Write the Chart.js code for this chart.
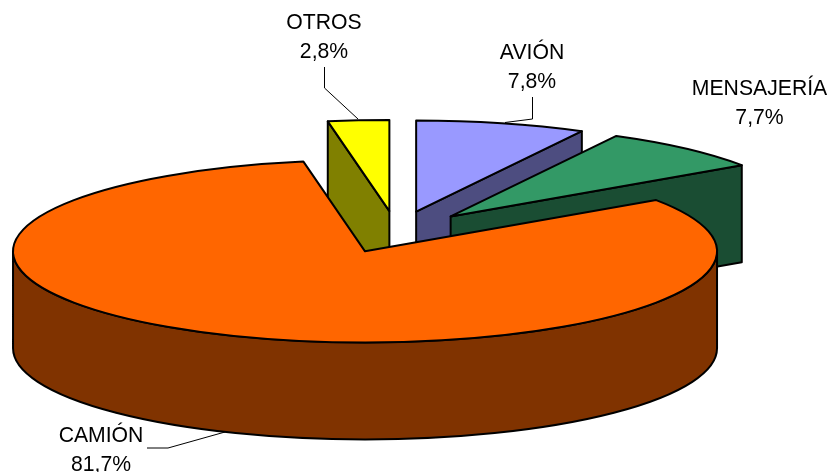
<!DOCTYPE html>
<html>
<head>
<meta charset="utf-8">
<style>
  html, body { margin: 0; padding: 0; background: #fff; }
  #wrap { width: 829px; height: 472px; }
</style>
<script src="https://cdn.jsdelivr.net/npm/chart.js@4"></script>
</head>
<body>
<div id="wrap"><canvas id="chart"></canvas></div>
<script>
"use strict";

const categories = ["AVIÓN", "MENSAJERÍA", "CAMIÓN", "OTROS"];
const shares = [7.8, 7.7, 81.7, 2.8];
const topColors = ["#9999ff", "#339966", "#ff6600", "#ffff00"];
const sideColors = ["#4d4d80", "#1a4d33", "#803300", "#808000"];

// label anchor (x, first baseline) and leader line for each slice
const labelAnchors = [[532, 59], [759.5, 95], [101, 442], [324, 29]];
const leaderLines = [
  [[532.5, 97], [532.5, 119], [505, 122.5]],
  [],
  [[147, 448], [168, 448], [225, 432]],
  [[324.5, 67], [324.5, 88], [358, 119]],
];

const TILT = 0.259;
const DEPTH = 97;
const EXPLODE = 81;

// 3D look: the slices come from the pie controller, only the projection is ours
const pie3d = {
  id: "pie3d",
  beforeDatasetDraw() {
    return false;
  },
  afterDatasetsDraw(chart) {
    const ctx = chart.ctx;
    const arcs = chart.getDatasetMeta(0).data;
    // back to front
    [0, 1, 3, 2].forEach((i) => drawSlice(ctx, arcs[i], i));
    drawLabels(ctx);
  },
};

function drawSlice(ctx, arc, i) {
  const mid = (arc.startAngle + arc.endAngle) / 2;
  const off = arc.options.offset;
  const cx = arc.x + Math.cos(mid) * off;
  const cy = arc.y + Math.sin(mid) * off * TILT;
  const rx = arc.outerRadius;
  const ry = rx * TILT;

  ctx.save();
  ctx.lineJoin = "round";
  ctx.lineWidth = 2;
  ctx.strokeStyle = "#000";

  // radial walls that face the viewer
  if (Math.cos(arc.endAngle) > 0.001) wall(ctx, cx, cy, rx, ry, arc.endAngle, sideColors[i]);
  if (Math.cos(arc.startAngle) < -0.001) wall(ctx, cx, cy, rx, ry, arc.startAngle, sideColors[i]);

  // outer rim, front half only
  const a0 = Math.max(arc.startAngle, 0);
  const a1 = Math.min(arc.endAngle, Math.PI);
  if (a1 > a0) {
    ctx.beginPath();
    ctx.ellipse(cx, cy, rx, ry, 0, a0, a1);
    ctx.ellipse(cx, cy + DEPTH, rx, ry, 0, a1, a0, true);
    ctx.closePath();
    ctx.fillStyle = sideColors[i];
    ctx.fill();
    ctx.stroke();
  }

  // top face
  ctx.beginPath();
  ctx.moveTo(cx, cy);
  ctx.ellipse(cx, cy, rx, ry, 0, arc.startAngle, arc.endAngle);
  ctx.closePath();
  ctx.fillStyle = topColors[i];
  ctx.fill();
  ctx.stroke();
  ctx.restore();
}

function wall(ctx, cx, cy, rx, ry, angle, color) {
  const ex = cx + Math.cos(angle) * rx;
  const ey = cy + Math.sin(angle) * ry;
  ctx.beginPath();
  ctx.moveTo(cx, cy);
  ctx.lineTo(ex, ey);
  ctx.lineTo(ex, ey + DEPTH);
  ctx.lineTo(cx, cy + DEPTH);
  ctx.closePath();
  ctx.fillStyle = color;
  ctx.fill();
  ctx.stroke();
}

function drawLabels(ctx) {
  ctx.save();
  ctx.strokeStyle = "#000";
  ctx.lineWidth = 1;
  leaderLines.forEach((pts) => {
    if (!pts.length) return;
    ctx.beginPath();
    pts.forEach((p, k) => (k ? ctx.lineTo(p[0], p[1]) : ctx.moveTo(p[0], p[1])));
    ctx.stroke();
  });
  ctx.fillStyle = "#000";
  ctx.font = '21.2px "Liberation Sans", Arial, sans-serif';
  ctx.textAlign = "center";
  ctx.textBaseline = "alphabetic";
  categories.forEach((name, i) => {
    const [x, y] = labelAnchors[i];
    ctx.fillText(name, x, y);
    ctx.fillText(shares[i].toFixed(1).replace(".", ",") + "%", x, y + 28.5);
  });
  ctx.restore();
}

new Chart(document.getElementById("chart"), {
  type: "pie",
  data: {
    labels: categories,
    datasets: [
      {
        data: shares,
        backgroundColor: topColors,
        borderWidth: 0,
        offset: EXPLODE,
        radius: 352,
      },
    ],
  },
  options: {
    responsive: true,
    maintainAspectRatio: false,
    animation: false,
    events: [],
    radius: 352,
    layout: { padding: { right: 36, bottom: 8 } },
    plugins: {
      legend: { display: false },
      tooltip: { enabled: false },
    },
  },
  plugins: [pie3d],
});
</script>
</body>
</html>
